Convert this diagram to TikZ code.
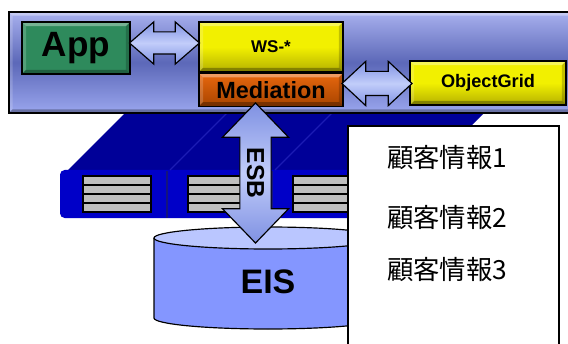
\documentclass[tikz,border=0pt]{standalone}
\usepackage{fontspec}
\setmainfont{Liberation Sans}
\newfontfamily\jpfont{Noto Sans CJK JP}
\usetikzlibrary{shapes.arrows,positioning}

\definecolor{panelTop}{HTML}{A8B0EE}
\definecolor{panelMid}{HTML}{5C68B8}
\definecolor{panelBot}{HTML}{9AA6EE}
\definecolor{appGreen}{HTML}{2E8A5C}
\definecolor{wsYellow}{HTML}{F2F000}
\definecolor{wsDark}{HTML}{B4B000}
\definecolor{medOrange}{HTML}{E8680E}
\definecolor{medDark}{HTML}{A84400}
\definecolor{arrowEdge}{HTML}{7F91E2}
\definecolor{arrowMid}{HTML}{C2CDFA}
\definecolor{busTop}{HTML}{000098}
\definecolor{busFront}{HTML}{0000C8}
\definecolor{busLine}{HTML}{1C1CB4}
\definecolor{eisBody}{HTML}{8496FF}
\definecolor{eisTop}{HTML}{BAC6FF}

\begin{document}
\begin{tikzpicture}[x=0.03cm,y=-0.03cm,
  bevel/.style={path picture={
    \fill[white,opacity=.35] (path picture bounding box.north west) -- (path picture bounding box.north east)
      -- ([xshift=-#1,yshift=-#1]path picture bounding box.north east) -- ([xshift=#1,yshift=-#1]path picture bounding box.north west) -- cycle;
    \fill[white,opacity=.18] (path picture bounding box.north west) -- (path picture bounding box.south west)
      -- ([xshift=#1,yshift=#1]path picture bounding box.south west) -- ([xshift=#1,yshift=-#1]path picture bounding box.north west) -- cycle;
    \fill[black,opacity=.3] (path picture bounding box.south west) -- (path picture bounding box.south east)
      -- ([xshift=-#1,yshift=#1]path picture bounding box.south east) -- ([xshift=#1,yshift=#1]path picture bounding box.south west) -- cycle;
    \fill[black,opacity=.2] (path picture bounding box.north east) -- (path picture bounding box.south east)
      -- ([xshift=-#1,yshift=#1]path picture bounding box.south east) -- ([xshift=-#1,yshift=-#1]path picture bounding box.north east) -- cycle;
  }},
  bevel/.default=3.5pt,
  block/.style={draw=black,line width=1pt,inner sep=0pt,font=\bfseries,bevel},
  fatarrow/.style={shape=double arrow,draw=black,line width=1pt,inner xsep=0pt,
    top color=arrowEdge,bottom color=arrowEdge,middle color=arrowMid},
  server/.style={fill=black!25,draw=black,line width=1.4pt}]
  \useasboundingbox (0,0) rectangle (568,344);

  % bus behind the panel
  \fill[busTop] (131,107) -- (490,107) -- (427,170) -- (68,170) -- cycle;
  \fill[busFront,rounded corners=4pt] (60,170) rectangle (440,218);
  \draw[busLine,line width=1pt] (170,170) -- (227,113) (275,170) -- (332,113);
  \draw[busLine!70!black,line width=1pt] (167,171) -- (167,218) (272,171) -- (272,218);
  \foreach \sx in {83,188,293} {
    \draw[server] (\sx,176) rectangle ++(68,36);
    \foreach \k in {1,2,3}
      \draw[line width=1.4pt] (\sx,{176+9*\k}) -- ++(68,0);
  }

  % top panel
  \node[draw=black,line width=1pt,minimum width=16.98cm,minimum height=3.03cm,
    top color=panelTop,bottom color=panelBot,middle color=panelMid,bevel=3pt] (panel) at (292,62.5) {};
  \node[block,fill=appGreen,minimum width=3.24cm,minimum height=1.56cm,font=\bfseries\fontsize{30}{30}\selectfont] (app) at (76,48) {App};
  \node[block,top color=wsYellow,bottom color=wsDark,middle color=wsYellow,minimum width=4.32cm,minimum height=1.5cm,font=\bfseries\fontsize{14.5}{15}\selectfont] (ws) at (271,47) {WS-*};
  \node[block,top color=medOrange,bottom color=medDark,minimum width=4.32cm,minimum height=0.99cm,font=\bfseries\fontsize{20}{20}\selectfont,below=0pt of ws] (med) {Mediation};
  \node[block,top color=wsYellow,bottom color=wsDark,middle color=wsYellow,minimum width=4.68cm,minimum height=1.32cm,font=\bfseries\fontsize{15.5}{16}\selectfont] (grid) at (488,83) {ObjectGrid};

  \node[fatarrow,minimum height=2.1cm,minimum width=1.23cm,inner ysep=0.315cm,
    double arrow head extend=0.3cm,double arrow tip angle=82] (appws) at (164.5,43) {};
  \node[fatarrow,minimum height=2.1cm,minimum width=1.29cm,inner ysep=0.345cm,
    double arrow head extend=0.3cm,double arrow tip angle=86] (medgrid) at (377,83.5) {};

  % EIS
  \draw[line width=1pt,fill=eisBody] (154,238) -- (154,318)
    arc[start angle=180,end angle=360,x radius=3.42cm,y radius=0.33cm] -- (382,238);
  \draw[line width=1pt,fill=eisTop] (268,238) ellipse[x radius=3.42cm,y radius=0.33cm];
  \node[font=\bfseries\fontsize{29}{29}\selectfont] (eis) at (268,282) {EIS};

  % customer data
  \node[draw=black,line width=1.4pt,fill=white,anchor=north west,minimum width=6.33cm,minimum height=7.2cm] (info) at (347,125) {};
  \node[anchor=west,font=\jpfont\fontsize{22.5}{27}\selectfont] (cust1) at (383,158) {顧客情報1};
  \node[anchor=west,font=\jpfont\fontsize{22.5}{27}\selectfont] (cust2) at (383,218) {顧客情報2};
  \node[anchor=west,font=\jpfont\fontsize{22.5}{27}\selectfont] (cust3) at (383,270) {顧客情報3};

  \node[fatarrow,rotate=-90,minimum height=4.2cm,minimum width=1.95cm,inner ysep=0.19cm,
    double arrow head extend=0.525cm,double arrow tip angle=88,
    font=\bfseries\fontsize{21}{21}\selectfont] (esb) at (255.5,173) {ESB};
\end{tikzpicture}
\end{document}
